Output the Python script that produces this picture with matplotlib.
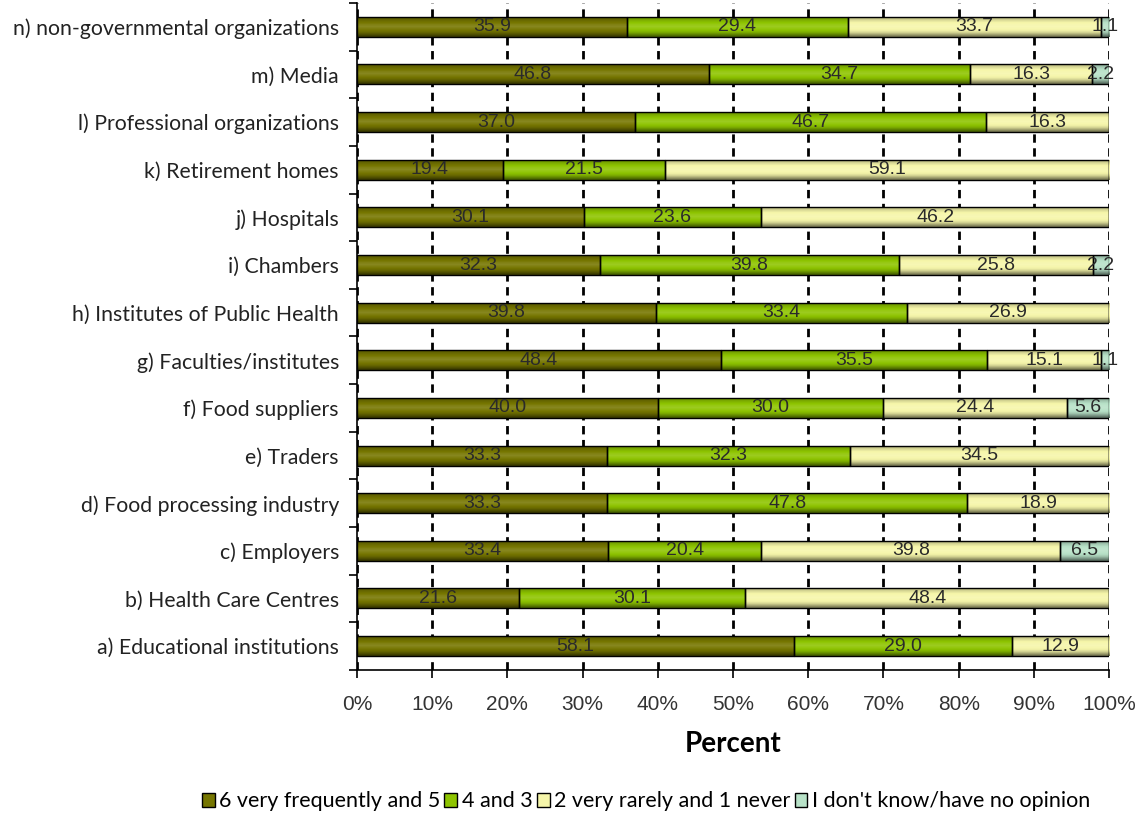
"""
Stacked 100% bar chart of contact frequency by organisation type
"""
import numpy as np
import matplotlib
matplotlib.use("Agg")
from matplotlib import pyplot
from matplotlib.ticker import FixedLocator, MultipleLocator, PercentFormatter

categories = [
    "a) Educational institutions",
    "b) Health Care Centres",
    "c) Employers",
    "d) Food processing industry",
    "e) Traders",
    "f) Food suppliers",
    "g) Faculties/institutes",
    "h) Institutes of Public Health",
    "i) Chambers",
    "j) Hospitals",
    "k) Retirement homes",
    "l) Professional organizations",
    "m) Media",
    "n) non-governmental organizations",
]
very_frequent = [58.1, 21.6, 33.4, 33.3, 33.3, 40.0, 48.4, 39.8, 32.3, 30.1, 19.4, 37.0, 46.8, 35.9]
medium = [29.0, 30.1, 20.4, 47.8, 32.3, 30.0, 35.5, 33.4, 39.8, 23.6, 21.5, 46.7, 34.7, 29.4]
rarely = [12.9, 48.4, 39.8, 18.9, 34.5, 24.4, 15.1, 26.9, 25.8, 46.2, 59.1, 16.3, 16.3, 33.7]
no_opinion = [0, 0, 6.5, 0, 0, 5.6, 1.1, 0, 2.2, 0, 0, 0, 2.2, 1.1]

series_names = [
    "6 very frequently and 5",
    "4 and 3",
    "2 very rarely and 1 never",
    "I don't know/have no opinion",
]
colors = ["#767600", "#8ec400", "#f6f6aa", "#b8e2c8"]

LABEL_FONT = ["Lato", "DejaVu Sans"]
NUM_FONT = ["Liberation Sans Narrow", "Liberation Sans", "DejaVu Sans"]


def shade(color, f):
    rgb = np.array(matplotlib.colors.to_rgb(color))
    if f >= 1:
        return rgb + (1 - rgb) * (f - 1)
    return rgb * f


def gradient_fill(ax, rect, color):
    """paint a vertical gradient clipped to a bar"""
    prof = np.array([0.5, 0.7, 0.88, 0.98, 1.06, 1.12, 1.08, 1.0, 0.92, 0.82, 0.68])
    img = np.array([shade(color, f) for f in prof]).reshape(-1, 1, 3)
    img = np.clip(img, 0, 1)
    x, y = rect.get_x(), rect.get_y()
    w, h = rect.get_width(), rect.get_height()
    im = ax.imshow(img, extent=(x, x + w, y, y + h), origin="lower",
                   aspect="auto", interpolation="bilinear", zorder=2.8)
    im.set_clip_path(rect)


series = [very_frequent, medium, rarely, no_opinion]
data = np.array(series, dtype=float)
totals = data.sum(axis=0)
shares = data / totals * 100

fig = pyplot.figure(figsize=(11.37, 8.21), dpi=100)
ax = fig.add_axes([0.314, 0.184, 0.6614, 0.8123])

ypos = np.arange(len(categories))
left = np.zeros(len(categories))
containers = []
for idx, name in enumerate(series_names):
    bars = ax.barh(ypos, shares[idx], left=left, height=0.42, color=colors[idx],
                   edgecolor="black", linewidth=1.0, label=name, zorder=3)
    for rect, raw, share in zip(bars, data[idx], shares[idx]):
        if raw > 0:
            gradient_fill(ax, rect, colors[idx])
            ax.text(rect.get_x() + share / 2, rect.get_y() + rect.get_height() / 2,
                    f"{raw:.1f}", ha="center", va="center", fontsize=14,
                    family=NUM_FONT, color="#2a2a2a", zorder=4)
    containers.append(bars)
    left += shares[idx]

ax.set_xlim(0, 100)
ax.set_ylim(-0.5, len(categories) - 0.5)
ax.xaxis.set_major_locator(MultipleLocator(10))
ax.xaxis.set_major_formatter(PercentFormatter(decimals=0))
ax.set_yticks(ypos)
ax.set_yticklabels(categories, family=LABEL_FONT, fontsize=15.3, color="#222222")
ax.yaxis.set_minor_locator(FixedLocator(np.arange(-0.5, len(categories), 1)))
ax.tick_params(axis="y", which="major", length=0, pad=13)
ax.tick_params(axis="y", which="minor", length=6, width=1.2)
ax.tick_params(axis="x", length=6, width=1.2, pad=12)
for lbl in ax.get_xticklabels():
    lbl.set_family(NUM_FONT)
    lbl.set_fontsize(15)
    lbl.set_color("#333333")

ax.grid(axis="x", color="black", linestyle=(0, (3, 2)), linewidth=2, zorder=1)
ax.set_axisbelow(True)
for side in ("top", "right"):
    ax.spines[side].set_visible(False)
ax.spines["left"].set_linewidth(1.2)
ax.spines["bottom"].set_linewidth(1.2)

ax.set_xlabel("Percent", family=LABEL_FONT, fontsize=20, fontweight="bold", labelpad=12)

fig.legend(handles=containers, labels=series_names, loc="center", bbox_to_anchor=(0.568, 0.024),
           ncol=4, frameon=False, prop={"family": LABEL_FONT, "size": 15.5},
           handlelength=0.6, handleheight=0.6, handletextpad=0.2, columnspacing=0.2)

# legend has copied the solid colours; let the gradients show through on the bars
for bars in containers:
    for rect in bars:
        rect.set_facecolor("none")

fig.savefig("out.png", dpi=100)
pyplot.close(fig)
